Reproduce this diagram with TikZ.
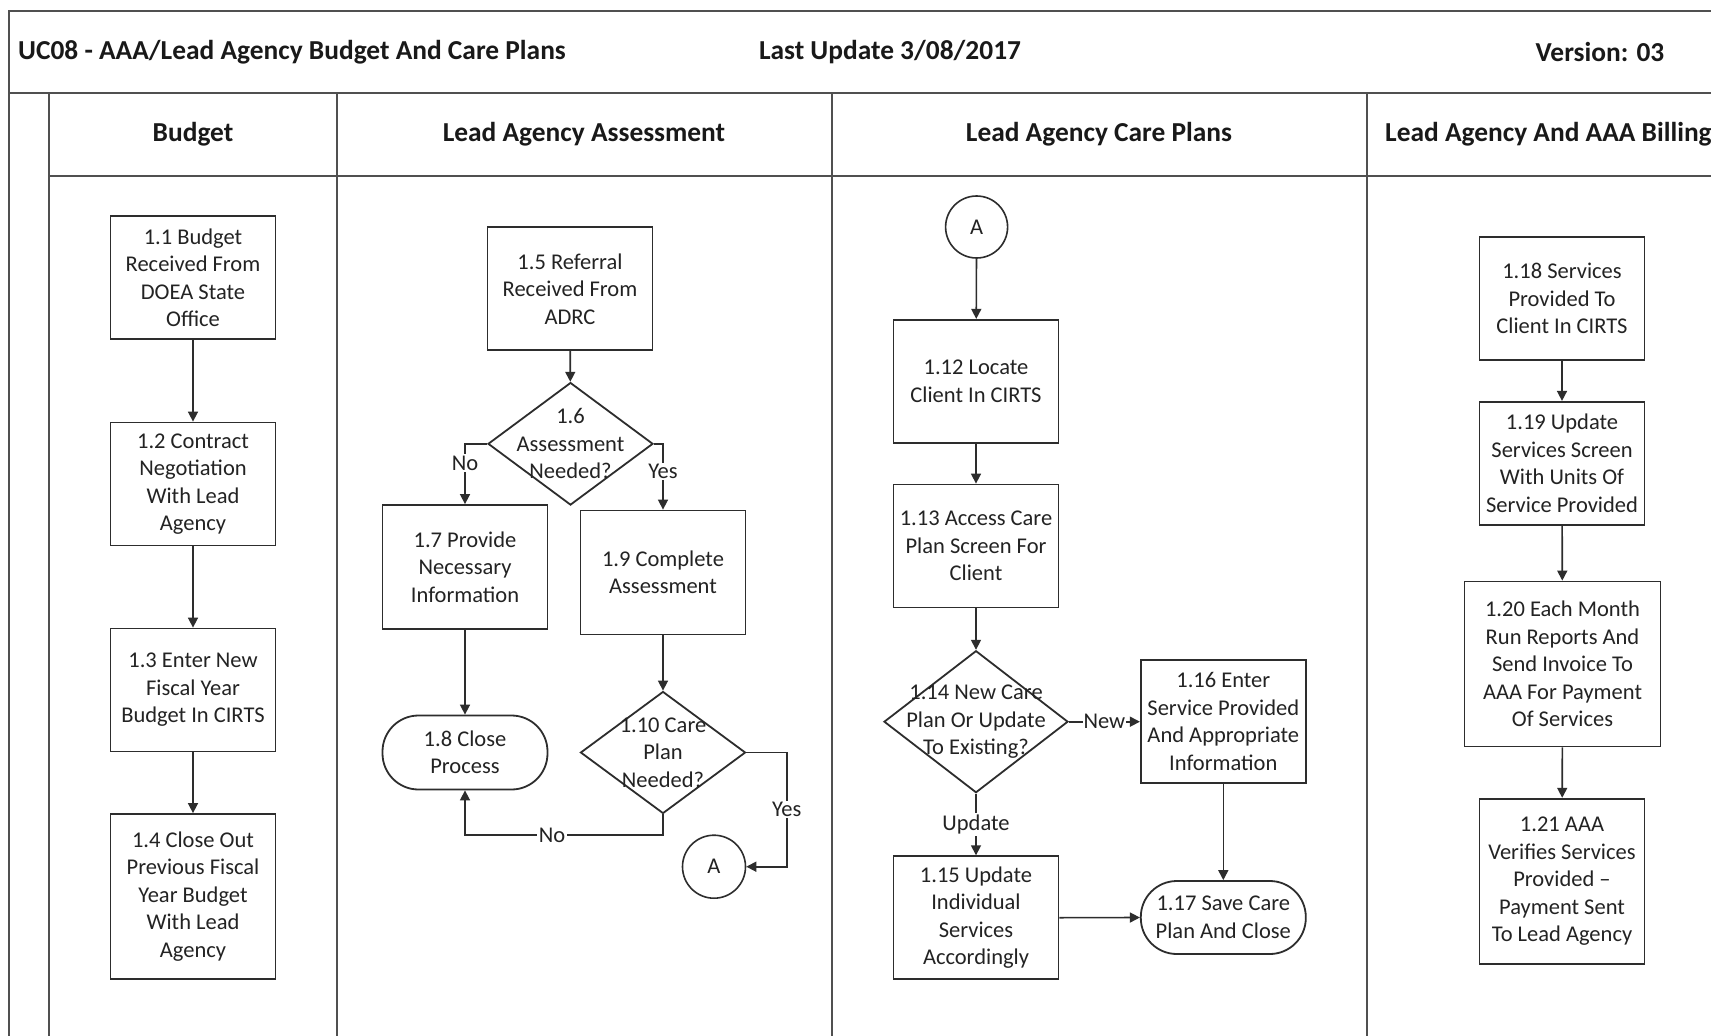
\documentclass[tikz,border=0pt]{standalone}
\usepackage{fontspec}
\setmainfont{Carlito}
\usetikzlibrary{shapes.geometric,arrows.meta}
\definecolor{frm}{RGB}{80,80,80}
\definecolor{lnc}{RGB}{45,45,45}
\definecolor{txc}{RGB}{35,35,35}
\newcommand\bodyfnt{\fontsize{22.5}{27.5}\selectfont}
\newcommand\headfnt{\fontsize{27.4}{32}\selectfont\bfseries}
\begin{document}
\begin{tikzpicture}[x=1pt,y=-1pt,
  frame/.style={draw=frm, line width=2pt},
  stepbox/.style={rectangle, draw=lnc, line width=1.8pt, fill=white, minimum width=165pt, minimum height=123pt, inner sep=0pt, align=center, font=\bodyfnt, text=txc},
  term/.style={stepbox, rounded corners=36pt, minimum height=74pt},
  dia/.style={diamond, draw=lnc, line width=1.8pt, inner sep=0pt, minimum width=166pt, minimum height=123pt},
  diatxt/.style={align=center, font=\bodyfnt, text=txc, inner sep=0pt},
  conn/.style={circle, draw=lnc, line width=1.6pt, fill=white, minimum size=63pt, inner sep=0pt, font=\bodyfnt, text=txc},
  arr/.style={draw=lnc, line width=1.6pt, -{Triangle[length=10pt,width=10pt]}},
  lbl/.style={fill=white, inner sep=1.5pt, font=\bodyfnt, text=txc},
  head/.style={font=\headfnt, text=black!90, inner sep=0pt}]
\useasboundingbox (0,0) rectangle (1711,1036);
\fill[white] (0,0) rectangle (1711,1036);
\clip (0,0) rectangle (1711,1036);

% frame and lanes
\draw[frame] (9,1040) -- (9,11) -- (1715,11);
\draw[frame] (9,92.5) -- (1715,92.5);
\draw[frame] (49,92.5) -- (49,1040);
\draw[frame] (49,175.5) -- (1715,175.5);
\draw[frame] (337,92.5) -- (337,1040);
\draw[frame] (831.5,92.5) -- (831.5,1040);
\draw[frame] (1366.5,92.5) -- (1366.5,1040);

% title row
\node[head, anchor=west] (title) at (18,52) {UC08 - AAA/Lead Agency Budget And Care Plans};
\node[head] (upd) at (890,52) {Last Update 3/08/2017};
\node[head] (ver) at (1600,52) {Version: 03};

% lane headers
\node[head] (h1) at (193,134) {Budget};
\node[head] (h2) at (584,134) {Lead Agency Assessment};
\node[head] (h3) at (1099,134) {Lead Agency Care Plans};
\node[head, anchor=west] (h4) at (1385,134) {Lead Agency And AAA Billing};

% Budget lane
\node[stepbox] (b11) at (193,277.7) {1.1 Budget\\Received From\\DOEA State\\Office};
\node[stepbox] (b12) at (193,484) {1.2 Contract\\Negotiation\\With Lead\\Agency};
\node[stepbox] (b13) at (193,690) {1.3 Enter New\\Fiscal Year\\Budget In CIRTS};
\node[stepbox, minimum height=165pt] (b14) at (193,896.5) {1.4 Close Out\\Previous Fiscal\\Year Budget\\With Lead\\Agency};
\draw[arr] (b11) -- (b12);
\draw[arr] (b12) -- (b13);
\draw[arr] (b13) -- (b14);

% Assessment lane
\node[stepbox] (b15) at (570,288.8) {1.5 Referral\\Received From\\ADRC};
\node[dia, minimum width=165pt, minimum height=122.5pt] (d16) at (570.5,443.8) {};
\node[diatxt] (d16t) at (d16.center) {1.6\\Assessment\\Needed?};
\node[stepbox, minimum height=124pt] (b17) at (465,567) {1.7 Provide\\Necessary\\Information};
\node[stepbox, minimum height=124pt] (b19) at (663,572.5) {1.9 Complete\\Assessment};
\node[term] (t18) at (465,752.5) {1.8 Close\\Process};
\node[dia, minimum width=165pt, minimum height=122pt] (d110) at (663,752.5) {};
\node[diatxt] (d110t) at (d110.center) {1.10 Care\\Plan\\Needed?};
\node[conn] (ca1) at (714,866.7) {A};
\coordinate (k1) at (663,835);
\coordinate (k2) at (786.7,752.5);

\draw[arr] (b15) -- (d16);
\draw[arr] (d16.west) -| node[lbl, pos=0.66] {No} (b17.north);
\draw[arr] (d16.east) -| node[lbl, pos=0.71] {Yes} (b19.north);
\draw[arr] (b17) -- (t18);
\draw[arr] (b19) -- (d110);
\draw[arr] (d110.south) -- (k1) -| node[lbl, pos=0.28] {No} (t18.south);
\draw[arr] (d110.east) -- (k2) |- node[lbl, pos=0.25] {Yes} (ca1.east);

% Care plans lane
\node[conn, minimum size=62pt] (ca2) at (976.6,227) {A};
\node[stepbox] (b112) at (976,381.3) {1.12 Locate\\Client In CIRTS};
\node[stepbox] (b113) at (976,546) {1.13 Access Care\\Plan Screen For\\Client};
\node[dia, minimum width=184pt, minimum height=142pt] (d114) at (976,721.7) {};
\node[diatxt] (d114t) at (d114.center) {1.14 New Care\\Plan Or Update\\To Existing?};
\node[stepbox] (b116) at (1223.3,721.7) {1.16 Enter\\Service Provided\\And Appropriate\\Information};
\node[stepbox] (b115) at (976,917.7) {1.15 Update\\Individual\\Services\\Accordingly};
\node[term, minimum height=73pt] (t117) at (1223.3,917.5) {1.17 Save Care\\Plan And Close};

\draw[arr] (ca2) -- (b112);
\draw[arr] (b112) -- (b113);
\draw[arr] (b113) -- (d114);
\draw[arr] (d114.east) -- node[lbl, pos=0.5, inner sep=0.5pt] {New} (b116.west);
\draw[arr] (d114.south) -- node[lbl, pos=0.5] {Update} (b115.north);
\draw[arr] (b115.east) -- (t117.west);
\draw[arr] (b116.south) -- (t117.north);

% Billing lane
\node[stepbox] (b118) at (1562,298.5) {1.18 Services\\Provided To\\Client In CIRTS};
\node[stepbox] (b119) at (1562,463.3) {1.19 Update\\Services Screen\\With Units Of\\Service Provided};
\node[stepbox, minimum width=196pt, minimum height=165pt] (b120) at (1562.5,664) {1.20 Each Month\\Run Reports And\\Send Invoice To\\AAA For Payment\\Of Services};
\node[stepbox, minimum height=165pt] (b121) at (1562,881.2) {1.21 AAA\\Verifies Services\\Provided –\\Payment Sent\\To Lead Agency};
\draw[arr] (b118) -- (b119);
\draw[arr] (b119) -- (b120);
\draw[arr] (b120) -- (b121);
\end{tikzpicture}
\end{document}
